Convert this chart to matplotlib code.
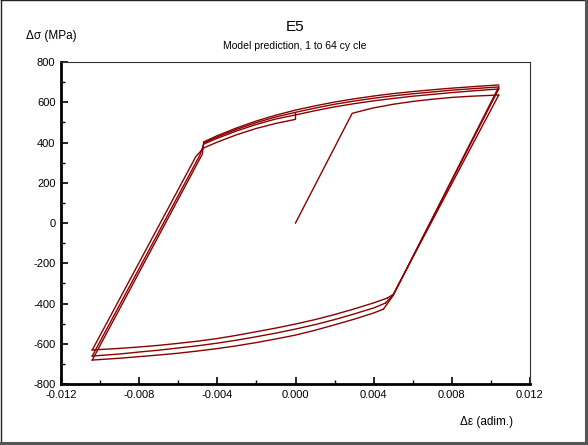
import matplotlib
matplotlib.use("Agg")
import matplotlib.pyplot as plt
from matplotlib.lines import Line2D
from matplotlib.ticker import MultipleLocator, FixedLocator

plt.rcParams["font.family"] = ["Liberation Sans", "DejaVu Sans"]

LINE = "#8b0000"

# initial monotonic loading
eps_init = [0.0, 0.0029, 0.0035, 0.0040, 0.0050, 0.0060, 0.0070, 0.0080, 0.0090, 0.0104]
sig_init = [0, 545, 560, 572, 590, 604, 615, 624, 630, 636]

# reloading (tension) branches, upper side of the loops
eps_top = [-0.0047, -0.0040, -0.0030, -0.0020, -0.0010, 0.0, 0.0010, 0.0020,
           0.0030, 0.0040, 0.0050, 0.0060, 0.0070, 0.0080, 0.0090, 0.0104]
sig_top_a = [403, 434, 473, 507, 536, 561, 582, 601, 617, 631, 643, 653, 662, 670, 677, 686]
sig_top_b = [398, 428, 466, 499, 527, 550, 571, 590, 606, 620, 632, 642, 651, 660, 667, 676]
sig_top_c = [392, 421, 458, 490, 517, 537, 558, 577, 593, 607, 619, 630, 639, 648, 656, 666]

# first reloading branch, stops at zero strain
eps_top_d = [-0.0047, -0.0040, -0.0030, -0.0020, -0.0010, 0.0, 0.0]
sig_top_d = [373, 402, 439, 470, 495, 515, 548]

# unloading (compression) branches, lower side of the loops
eps_bot = [0.0040, 0.0030, 0.0020, 0.0010, 0.0, -0.0010, -0.0020, -0.0030,
           -0.0040, -0.0050, -0.0060, -0.0070, -0.0080, -0.0090, -0.0104]
sig_bot_1 = [-397, -427, -455, -480, -502, -522, -540, -558, -574, -587, -598, -608, -616, -623, -631]
sig_bot_2 = [-422, -452, -480, -505, -527, -547, -565, -582, -597, -610, -621, -632, -641, -651, -661]
sig_bot_3 = [-447, -478, -506, -533, -557, -576, -594, -610, -624, -636, -647, -656, -664, -672, -681]

# corner (onset of plasticity) on compression side
eps_bot_corner = [0.0047, 0.0046, 0.0045]
sig_bot_corner = [-373, -398, -428]

# elastic unloading from tensile peaks: start, knee
sig_peak = [636, 666, 676]
eps_knee_down = 0.0050
sig_knee_down = [-355, -358, -360]

# elastic reloading from compressive peaks
sig_valley = [-631, -661, -681]
eps_knee_up = [-0.0051, -0.0049, -0.00477]
sig_knee_up = [330, 336, 342]
sig_top_corner = [373, 392, 398]
eps_top_corner = -0.0047

eps_max = 0.0104

fig = plt.figure(figsize=(5.88, 4.45), dpi=100)
ax = fig.add_axes([61 / 588, 1 - 384 / 445, 469 / 588, 322 / 445])

lw = 1.0
ax.plot(eps_init, sig_init, color=LINE, lw=lw)
for s in (sig_top_a, sig_top_b, sig_top_c):
    ax.plot(eps_top, s, color=LINE, lw=lw)
ax.plot(eps_top_d, sig_top_d, color=LINE, lw=lw)

for i, s in enumerate((sig_bot_1, sig_bot_2, sig_bot_3)):
    ax.plot([eps_bot_corner[i]] + eps_bot, [sig_bot_corner[i]] + s, color=LINE, lw=lw)
    # descending elastic line to the corner
    ax.plot([eps_max, eps_knee_down, eps_bot_corner[i]],
            [sig_peak[i], sig_knee_down[i], sig_bot_corner[i]], color=LINE, lw=lw)
    # ascending elastic line to the upper-left corner
    ax.plot([-eps_max, eps_knee_up[i], eps_top_corner],
            [sig_valley[i], sig_knee_up[i], sig_top_corner[i]], color=LINE, lw=lw)

ax.set_xlim(-0.012, 0.012)
ax.set_ylim(-800, 800)
ax.xaxis.set_major_locator(FixedLocator([-0.012, -0.008, -0.004, 0.0, 0.004, 0.008, 0.012]))
ax.xaxis.set_minor_locator(MultipleLocator(0.002))
ax.set_xticklabels(["-0.012", "-0.008", "-0.004", "0.000", "0.004", "0.008", "0.012"])
ax.set_yticks([-800, -600, -400, -200, 0, 200, 400, 600, 800])
ax.set_yticklabels(["-800", "-600", "-400", "-200", "0", "200", "400", "600", "800"])
ax.yaxis.set_minor_locator(MultipleLocator(100))

ax.tick_params(which="major", direction="in", length=5, width=1.2, labelsize=8, pad=4,
               top=False, right=False)
ax.tick_params(which="minor", direction="in", length=3, width=1.0, top=False, right=False)

for side in ("left", "bottom"):
    ax.spines[side].set_linewidth(2)
    ax.spines[side].set_color("black")
for side in ("top", "right"):
    ax.spines[side].set_linewidth(0.8)
    ax.spines[side].set_color("#333333")

fig.text(295 / 588, 1 - 27 / 445, "E5", ha="center", va="center", fontsize=11)
fig.text(295 / 588, 1 - 46 / 445, "Model prediction, 1 to 64 cy cle",
         ha="center", va="center", fontsize=7.5)
fig.text(26 / 588, 1 - 36 / 445, "Δσ (MPa)", ha="left", va="center", fontsize=8.5)
fig.text(487 / 588, 1 - 422 / 445, "Δε (adim.)", ha="center", va="center", fontsize=8.5)

# figure frame: thin dark top/left, thicker grey bottom/right
fig.add_artist(Line2D([0.001, 0.999], [0.999, 0.999], transform=fig.transFigure,
                      color="#222222", lw=1.0))
fig.add_artist(Line2D([0.001, 0.001], [0.004, 0.999], transform=fig.transFigure,
                      color="#222222", lw=1.0))
fig.add_artist(Line2D([0.0, 0.997], [0.005, 0.005], transform=fig.transFigure,
                      color="#555555", lw=2.2))
fig.add_artist(Line2D([0.997, 0.997], [0.005, 1.0], transform=fig.transFigure,
                      color="#555555", lw=2.2))

fig.savefig("out.png", dpi=100)
